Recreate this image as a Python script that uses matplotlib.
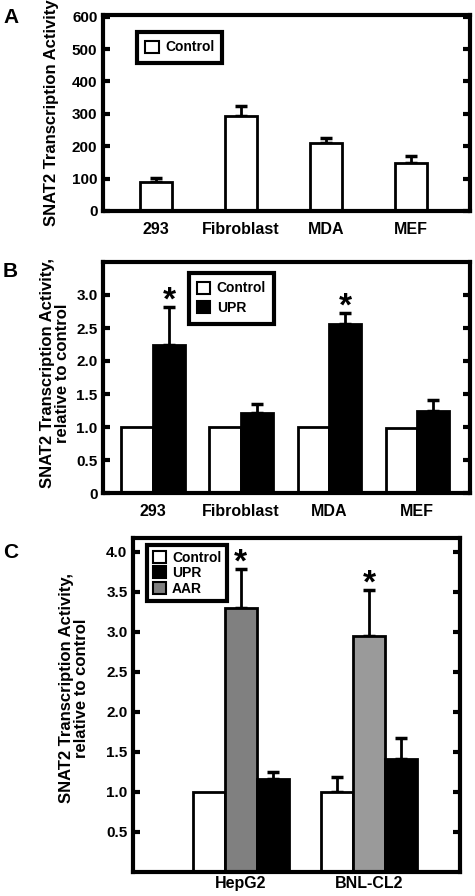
import numpy as np
import matplotlib
matplotlib.use('Agg')
import matplotlib.pyplot as plt
from matplotlib.patches import Patch

plt.rcParams['font.family'] = ['Liberation Sans', 'DejaVu Sans']
plt.rcParams['font.weight'] = 'bold'

# panel A
a_cells = ['293', 'Fibroblast', 'MDA', 'MEF']
a_control = [90, 292, 209, 148]
a_control_err = [11, 31, 15, 22]

# panel B
b_cells = ['293', 'Fibroblast', 'MDA', 'MEF']
b_control = [1.0, 1.0, 1.0, 0.98]
b_upr = [2.24, 1.21, 2.56, 1.24]
b_upr_err = [0.58, 0.14, 0.17, 0.17]
b_star = [True, False, True, False]

# panel C
c_cells = ['HepG2', 'BNL-CL2']
c_control = [1.0, 1.0]
c_control_err = [0.0, 0.18]
c_aar = [3.30, 2.95]
c_aar_err = [0.48, 0.57]
c_upr = [1.16, 1.41]
c_upr_err = [0.09, 0.26]
c_aar_colors = ['#808080', '#9a9a9a']
c_star = [True, True]

W, H = 475, 896
fig = plt.figure(figsize=(W / 100, H / 100), dpi=100)


def px_axes(left, top, right, bottom):
    return fig.add_axes([left / W, 1 - bottom / H, (right - left) / W, (bottom - top) / H])


def style(ax, xpad=8):
    for s in ax.spines.values():
        s.set_linewidth(3)
    ax.tick_params(axis='y', direction='in', length=5, width=3, left=True, right=True,
                   labelsize=11, pad=4)
    ax.tick_params(axis='x', length=0, labelsize=11.5, pad=xpad)
    for lab in ax.get_xticklabels() + ax.get_yticklabels():
        lab.set_fontweight('bold')


def bars(ax, x, vals, err, color, width):
    ax.bar(x, vals, width, color=color, edgecolor='black', linewidth=2, zorder=2)
    for xi, v, e in zip(x, vals, err):
        if e > 0:
            ax.errorbar(xi, v, yerr=[[0], [e]], fmt='none', ecolor='black',
                        elinewidth=2, capsize=4, capthick=2.5, zorder=1)


def star(ax, x, y):
    ax.annotate('*', xy=(x, y), xytext=(0, -2), textcoords='offset points',
                ha='center', va='baseline', fontsize=24, fontweight='bold')


def legend(ax, labels, colors, anchor, spacing, pad):
    handles = [Patch(facecolor=c, edgecolor='black', linewidth=1.5) for c in colors]
    leg = ax.legend(handles, labels, loc='upper left', bbox_to_anchor=anchor,
                    frameon=True, fancybox=False, framealpha=1, handlelength=0.95,
                    handleheight=0.95, handletextpad=0.45, labelspacing=spacing,
                    borderpad=pad, borderaxespad=0, prop={'weight': 'bold', 'size': 10})
    leg.get_frame().set_edgecolor('black')
    leg.get_frame().set_linewidth(3)


# ---- A ----
ax = px_axes(103, 15, 470, 211)
xa = np.arange(len(a_cells))
bars(ax, xa, a_control, a_control_err, 'white', 0.38)
ax.set_xlim(-0.62, 3.69)
ax.set_ylim(0, 605)
ax.set_yticks(np.arange(0, 601, 100))
ax.set_xticks(xa)
ax.set_xticklabels(a_cells)
style(ax)
ax.set_ylabel('SNAT2 Transcription Activity', fontsize=12, fontweight='bold')
ax.yaxis.set_label_coords(-0.12, 0.5)
legend(ax, ['Control'], ['white'], (0.093, 0.913), 0.3, 0.6)

# ---- B ----
ax = px_axes(103, 262, 470, 493)
xb = np.arange(len(b_cells))
w = 0.36
bars(ax, xb - w / 2, b_control, [0] * len(b_control), 'white', w)
bars(ax, xb + w / 2, b_upr, b_upr_err, 'black', w)
for xi, v, e, s in zip(xb, b_upr, b_upr_err, b_star):
    if s:
        star(ax, xi + w / 2, v + e)
ax.set_xlim(-0.57, 3.6)
ax.set_ylim(0, 3.5)
ax.set_yticks(np.arange(0, 3.01, 0.5))
ax.set_yticklabels(['0', '0.5', '1.0', '1.5', '2.0', '2.5', '3.0'])
ax.set_xticks(xb)
ax.set_xticklabels(b_cells)
style(ax)
ax.set_ylabel('SNAT2 Transcription Activity,\nrelative to control', fontsize=12,
              fontweight='bold', linespacing=1.0)
ax.yaxis.set_label_coords(-0.09, 0.52)
legend(ax, ['Control', 'UPR'], ['white', 'black'], (0.234, 0.952), 0.42, 0.6)

# ---- C ----
ax = px_axes(133, 538, 460, 872)
xc = np.arange(len(c_cells))
w = 0.25
bars(ax, xc - w, c_control, c_control_err, 'white', w)
bars(ax, xc, c_aar, c_aar_err, c_aar_colors, w)
bars(ax, xc + w, c_upr, c_upr_err, 'black', w)
for xi, v, e, s in zip(xc, c_aar, c_aar_err, c_star):
    if s:
        star(ax, xi, v + e)
ax.set_xlim(-0.84, 1.71)
ax.set_ylim(0, 4.17)
ax.set_yticks(np.arange(0.5, 4.01, 0.5))
ax.set_yticklabels(['0.5', '1.0', '1.5', '2.0', '2.5', '3.0', '3.5', '4.0'])
ax.set_xticks(xc)
ax.set_xticklabels(c_cells)
style(ax, xpad=3)
ax.set_ylabel('SNAT2 Transcription Activity,\nrelative to control', fontsize=12,
              fontweight='bold', linespacing=1.0)
ax.yaxis.set_label_coords(-0.135, 0.55)
legend(ax, ['Control', 'UPR', 'AAR'], ['white', 'black', '#808080'], (0.043, 0.979),
       0.12, 0.4)

# panel letters
for letter, ybase in [('A', 23), ('B', 277), ('C', 558)]:
    fig.text(3 / W, 1 - ybase / H, letter, fontsize=15, fontweight='bold', va='baseline')

fig.savefig('out.png', dpi=100)
